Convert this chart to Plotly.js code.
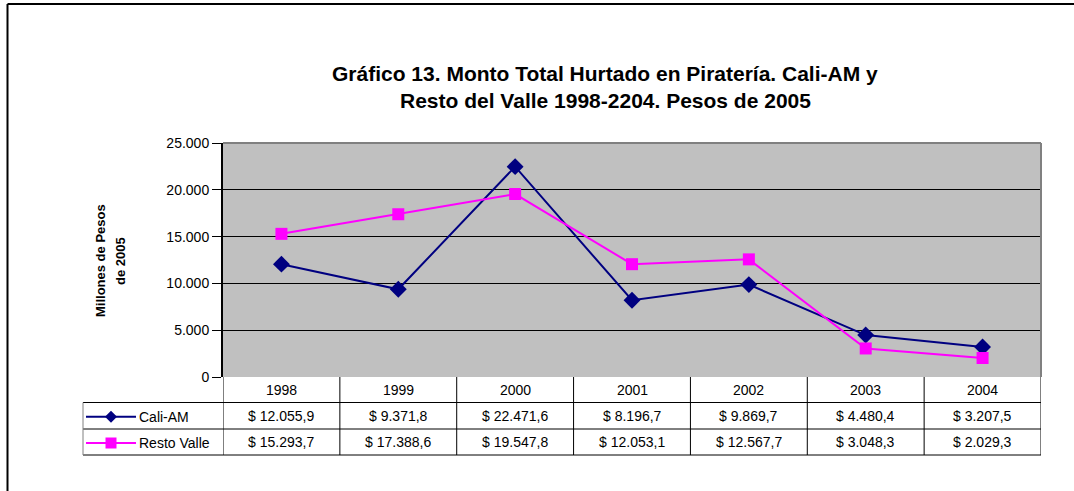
<!DOCTYPE html>
<html>
<head>
<meta charset="utf-8">
<script src="https://cdn.plot.ly/plotly-3.0.1.min.js"></script>
<style>
  body { margin: 0; background: #fff; }
  #chart { width: 1074px; height: 491px; }
</style>
</head>
<body>
<div id="chart"></div>
<script>
// data
const years = ['1998', '1999', '2000', '2001', '2002', '2003', '2004'];
const caliAM = [12055.9, 9371.8, 22471.6, 8196.7, 9869.7, 4480.4, 3207.5];
const restoValle = [15293.7, 17388.6, 19547.8, 12053.1, 12567.7, 3048.3, 2029.3];
const seriesNames = ['Cali-AM', 'Resto Valle'];

// plot area in pixels
const L = 223, R = 1041, T = 143, B = 377;
const W = 1074, H = 491;
const px = (x) => (x - L) / (R - L);
const py = (y) => (B - y) / (B - T);

// "$ 12.055,9"
function money(v) {
	let parts = v.toFixed(1).split('.');
	let ent = parts[0].replace(/\B(?=(\d{3})+(?!\d))/g, '.');
	return '$ ' + ent + ',' + parts[1];
}

let idx = years.map((y, i) => i);

let data = [
	{
		x: idx, y: caliAM, type: 'scatter', mode: 'lines+markers', name: seriesNames[0],
		line: { color: '#000080', width: 2 },
		marker: { symbol: 'diamond', size: 13, color: '#000080' },
		cliponaxis: false
	},
	{
		x: idx, y: restoValle, type: 'scatter', mode: 'lines+markers', name: seriesNames[1],
		line: { color: '#FF00FF', width: 2 },
		marker: { symbol: 'square', size: 12, color: '#FF00FF' },
		cliponaxis: false
	}
];

let shapes = [];
let annotations = [];
const thin = { color: '#000', width: 1 };
const fam = 'Liberation Sans, Arial, sans-serif';

// outer frame (only left and top visible)
shapes.push({ type: 'line', xref: 'paper', yref: 'paper', x0: px(7.5), x1: px(1080), y0: py(4), y1: py(4), line: { color: '#000', width: 2 } });
shapes.push({ type: 'line', xref: 'paper', yref: 'paper', x0: px(7.5), x1: px(7.5), y0: py(4), y1: py(500), line: { color: '#000', width: 2 } });

// data table
const rowY = [377, 402.5, 429, 455];
for (let r = 1; r < rowY.length; r++) {
	shapes.push({ type: 'line', xref: 'paper', yref: 'paper', x0: px(83), x1: px(R), y0: py(rowY[r]), y1: py(rowY[r]), line: thin });
}
for (let i = 0; i <= years.length; i++) {
	shapes.push({ type: 'line', xref: 'x', yref: 'paper', x0: i - 0.5, x1: i - 0.5, y0: py(rowY[0]), y1: py(rowY[3]), line: thin });
}
shapes.push({ type: 'line', xref: 'paper', yref: 'paper', x0: px(83), x1: px(83), y0: py(rowY[1]), y1: py(rowY[3]), line: { color: '#808080', width: 1 } });

const cellFont = { family: fam, size: 14, color: '#000' };
let rows = [caliAM, restoValle];
years.forEach((yr, i) => {
	annotations.push({ xref: 'x', yref: 'paper', x: i, y: py((rowY[0] + rowY[1]) / 2), text: yr, showarrow: false, font: cellFont, xanchor: 'center', yanchor: 'middle' });
	rows.forEach((vals, r) => {
		annotations.push({ xref: 'x', yref: 'paper', x: i, y: py((rowY[r + 1] + rowY[r + 2]) / 2), text: money(vals[i]), showarrow: false, font: cellFont, xanchor: 'center', yanchor: 'middle' });
	});
});

// legend keys inside the table
const keyColors = ['#000080', '#FF00FF'];
seriesNames.forEach((name, r) => {
	let cy = (rowY[r + 1] + rowY[r + 2]) / 2 + 1;
	shapes.push({ type: 'line', xref: 'paper', yref: 'paper', x0: px(86), x1: px(136), y0: py(cy), y1: py(cy), line: { color: keyColors[r], width: 2 } });
	let path;
	if (r === 0) {
		path = `M ${px(111)} ${py(cy - 6)} L ${px(117)} ${py(cy)} L ${px(111)} ${py(cy + 6)} L ${px(105)} ${py(cy)} Z`;
	} else {
		path = `M ${px(105.5)} ${py(cy - 5.5)} L ${px(116.5)} ${py(cy - 5.5)} L ${px(116.5)} ${py(cy + 5.5)} L ${px(105.5)} ${py(cy + 5.5)} Z`;
	}
	shapes.push({ type: 'path', xref: 'paper', yref: 'paper', path: path, fillcolor: keyColors[r], line: { color: keyColors[r], width: 0 } });
	annotations.push({ xref: 'paper', yref: 'paper', x: px(137), y: py(cy), text: name, showarrow: false, font: cellFont, xanchor: 'left', yanchor: 'middle' });
});

// plot area border (top/right gray)
shapes.push({ type: 'line', xref: 'paper', yref: 'paper', x0: 0, x1: 1, y0: 1, y1: 1, line: { color: '#808080', width: 2 } });
shapes.push({ type: 'line', xref: 'paper', yref: 'paper', x0: 1, x1: 1, y0: 0, y1: 1, line: { color: '#808080', width: 2 } });

// title
annotations.push({
	xref: 'paper', yref: 'paper', x: px(605), y: py(74),
	text: '<b>Gráfico 13. Monto Total Hurtado en Piratería. Cali-AM y</b>',
	showarrow: false, xanchor: 'center', yanchor: 'middle',
	font: { family: fam, size: 21, color: '#000' }
});
annotations.push({
	xref: 'paper', yref: 'paper', x: px(605), y: py(100),
	text: '<b>Resto del Valle 1998-2204. Pesos de 2005</b>',
	showarrow: false, xanchor: 'center', yanchor: 'middle',
	font: { family: fam, size: 21, color: '#000' }
});
// y axis title, two lines
annotations.push({
	xref: 'paper', yref: 'paper', x: px(100), y: py(261),
	text: '<b>Millones de Pesos</b>', textangle: -90,
	showarrow: false, xanchor: 'center', yanchor: 'middle',
	font: { family: fam, size: 13, color: '#000' }
});
annotations.push({
	xref: 'paper', yref: 'paper', x: px(120), y: py(261),
	text: '<b>de 2005</b>', textangle: -90,
	showarrow: false, xanchor: 'center', yanchor: 'middle',
	font: { family: fam, size: 13, color: '#000' }
});

let layout = {
	width: W, height: H,
	margin: { l: L, r: W - R, t: T, b: H - B, pad: 0 },
	paper_bgcolor: '#fff',
	plot_bgcolor: '#C0C0C0',
	showlegend: false,
	separators: ',.',
	font: { family: fam, size: 13, color: '#000' },
	xaxis: {
		range: [-0.5, years.length - 0.5],
		showticklabels: false, showgrid: false, zeroline: false,
		ticks: '', fixedrange: true
	},
	yaxis: {
		range: [0, 25000], dtick: 5000, tickformat: ',d',
		showgrid: true, gridcolor: '#000', gridwidth: 1,
		zeroline: false, showline: true, linecolor: '#000', linewidth: 2,
		ticks: 'outside', ticklen: 9, tickcolor: '#000', tickwidth: 1,
		tickfont: { size: 14 }, fixedrange: true
	},
	shapes: shapes,
	annotations: annotations
};

Plotly.newPlot('chart', data, layout, { displayModeBar: false, staticPlot: true });
</script>
</body>
</html>
